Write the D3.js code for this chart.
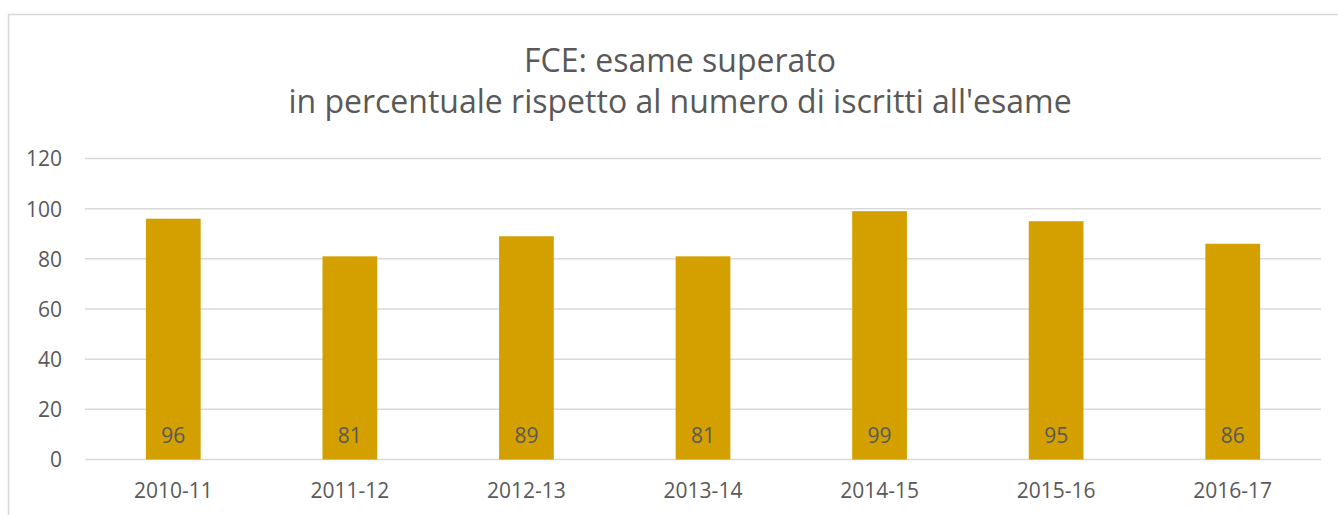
<!DOCTYPE html>
<html>
<head>
<meta charset="utf-8">
<script src="https://cdn.jsdelivr.net/npm/d3@7"></script>
<style>
  body { margin: 0; background: #fff; }
  text { font-family: "Open Sans", sans-serif; fill: #595959; }
</style>
</head>
<body>
<svg id="chart" width="1338" height="515"></svg>
<script>
// data
const years = ['2010-11', '2011-12', '2012-13', '2013-14', '2014-15', '2015-16', '2016-17'];
const passed = [96, 81, 89, 81, 99, 95, 86];
const yTicks = [0, 20, 40, 60, 80, 100, 120];
const titleLines = ['FCE: esame superato', "in percentuale rispetto al numero di iscritti all'esame"];

const svg = d3.select('#chart');

// outer chart border (cut by the window on right / bottom)
svg.append('rect')
    .attr('x', 8.5).attr('y', 14.5)
    .attr('width', 1400).attr('height', 600)
    .attr('fill', 'none')
    .attr('stroke', '#d9d9d9')
    .attr('stroke-width', 1.5);

const x = d3.scaleBand()
    .domain(years)
    .range([85, 1321])
    .paddingInner(0.69)
    .paddingOuter(0.345);

const y = d3.scaleLinear()
    .domain([0, 120])
    .range([459.5, 158.5]);

// gridlines
svg.append('g').selectAll('line')
    .data(yTicks)
    .join('line')
    .attr('x1', 85).attr('x2', 1321)
    .attr('y1', d => y(d)).attr('y2', d => y(d))
    .attr('stroke', '#d9d9d9')
    .attr('stroke-width', 1.5);

// y axis labels
const yAxis = svg.append('g')
    .attr('transform', 'translate(62,0)')
    .call(d3.axisLeft(y).tickValues(yTicks).tickSize(0).tickPadding(0));
yAxis.select('.domain').remove();
yAxis.selectAll('text')
    .attr('font-size', 21)
    .attr('font-family', '"Open Sans", sans-serif')
    .attr('fill', '#595959')
    .attr('dy', '0.35em');

// x axis labels
const xAxis = svg.append('g')
    .attr('transform', 'translate(0,459.5)')
    .call(d3.axisBottom(x).tickSize(0).tickPadding(0));
xAxis.select('.domain').remove();
xAxis.selectAll('text')
    .attr('font-size', 21)
    .attr('font-family', '"Open Sans", sans-serif')
    .attr('fill', '#595959')
    .attr('y', 38.5)
    .attr('dy', 0);

// bars
svg.append('g').selectAll('rect')
    .data(passed)
    .join('rect')
    .attr('x', (d, i) => x(years[i]))
    .attr('y', d => y(d))
    .attr('width', x.bandwidth())
    .attr('height', d => y(0) - y(d))
    .attr('fill', '#d4a000');

// value labels near bar base
svg.append('g').selectAll('text')
    .data(passed)
    .join('text')
    .attr('x', (d, i) => x(years[i]) + x.bandwidth() / 2)
    .attr('y', y(0) - 17)
    .attr('text-anchor', 'middle')
    .attr('font-size', 21)
    .attr('fill', '#404040')
    .text(d => d);

// title
svg.append('g').selectAll('text')
    .data(titleLines)
    .join('text')
    .attr('x', 680)
    .attr('y', (d, i) => 72 + i * 41)
    .attr('text-anchor', 'middle')
    .attr('font-size', 32)
    .text(d => d);
</script>
</body>
</html>
